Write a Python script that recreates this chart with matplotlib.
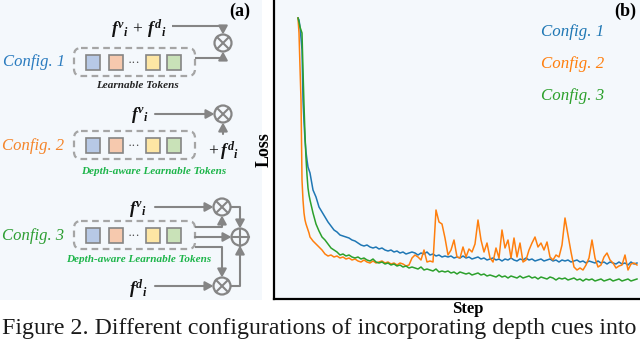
import numpy as np
import matplotlib
matplotlib.use('Agg')
import matplotlib.pyplot as plt
from matplotlib.patches import Rectangle, FancyBboxPatch, Circle

plt.rcParams['font.family'] = ['Liberation Serif', 'DejaVu Serif']
plt.rcParams['mathtext.fontset'] = 'custom'
plt.rcParams['mathtext.rm'] = 'Liberation Serif'
plt.rcParams['mathtext.it'] = 'Liberation Serif:italic:bold'
plt.rcParams['mathtext.bf'] = 'Liberation Serif:bold'

# ---------------- data (arbitrary loss units) ----------------
series_names = ['Config. 1', 'Config. 2', 'Config. 3']
steps = np.concatenate([np.arange(24, 37), np.arange(39, 364, 3)])

loss_c1 = [281, 279, 272, 261, 249, 199, 177, 159, 147, 139, 132, 129, 126,
           109, 102, 92, 87, 82, 77, 73, 69, 67, 64,
           63, 62, 61, 59, 58, 56, 54, 53, 54, 52,
           51, 52, 50, 51, 49, 48, 49, 47, 48, 46,
           47, 45, 46, 47, 46, 44, 46, 45, 47, 44,
           45, 43, 44, 42, 43, 42, 43, 41, 42, 41,
           43, 41, 42, 40, 41, 42, 40, 41, 39, 40,
           41, 39, 40, 38, 40, 39, 41, 39, 38, 40,
           39, 41, 39, 40, 38, 39, 40, 38, 39, 40,
           38, 39, 37, 39, 38, 39, 37, 38, 39, 37,
           38, 36, 38, 37, 36, 38, 36, 37, 35, 37,
           36, 35, 37, 35, 36, 34, 37, 35, 36]

loss_c2 = [281, 266, 232, 199, 119, 99, 86, 79, 75, 72, 69, 66, 62,
           58, 55, 52, 49, 45, 43, 44, 42, 43, 41,
           42, 40, 41, 39, 40, 38, 37, 39, 37, 36,
           38, 36, 37, 38, 36, 37, 35, 36, 34, 36,
           35, 33, 34, 41, 44, 42, 39, 49, 37, 38,
           37, 89, 77, 75, 61, 44, 49, 59, 42, 41,
           52, 42, 50, 47, 55, 79, 59, 47, 56, 41,
           37, 51, 41, 69, 51, 59, 41, 61, 42, 56,
           37, 39, 49, 56, 62, 52, 56, 49, 57, 42,
           39, 44, 42, 54, 81, 64, 47, 32, 29, 31,
           29, 34, 41, 59, 41, 32, 34, 42, 46, 39,
           36, 31, 33, 34, 44, 29, 35, 36, 34]

loss_c3 = [281, 277, 272, 269, 266, 229, 194, 164, 141, 124, 111, 104, 99,
           86, 75, 68, 62, 59, 55, 51, 49, 47, 44,
           45, 43, 44, 42, 41, 42, 40, 41, 39, 38,
           40, 37, 36, 37, 35, 36, 34, 35, 33, 34,
           32, 33, 31, 32, 31, 30, 32, 29, 30, 29,
           28, 30, 27, 28, 27, 28, 26, 27, 25, 27,
           26, 25, 26, 24, 25, 26, 24, 25, 23, 24,
           23, 22, 24, 22, 23, 21, 23, 22, 21, 23,
           21, 22, 23, 21, 22, 20, 22, 21, 20, 22,
           21, 19, 21, 20, 21, 19, 20, 21, 19, 20,
           18, 20, 19, 20, 18, 19, 20, 18, 19, 20,
           18, 19, 20, 18, 19, 20, 18, 19, 20]

line_colors = ['#1f77b4', '#ff7f0e', '#2ca02c']
caption = 'Figure 2. Different configurations of incorporating depth cues into'

# ---------------- figure ----------------
W, H = 640, 340
BG = '#f4f8fc'
GRAY = '#858585'
fig = plt.figure(figsize=(6.4, 3.4), dpi=100)

# overlay for diagram (a) and caption, pixel coordinates (drawn below the chart)
ax0 = fig.add_axes([0, 0, 1, 1])
ax0.set_xlim(0, W)
ax0.set_ylim(H, 0)
ax0.axis('off')
ax0.add_patch(Rectangle((0, 0), 262, 300, fc=BG, ec='none', zorder=0))

# right panel: loss chart
ax = fig.add_axes([274 / W, 1 - 299 / H, 1 - 274 / W, 299 / H])
ax.set_facecolor(BG)
for name, vals, col in zip(series_names, [loss_c1, loss_c2, loss_c3], line_colors):
    ax.plot(steps, vals, color=col, lw=1.1, label=name)
ax.set_xlim(0, 366)
ax.set_ylim(0, 299)
ax.set_xticks([])
ax.set_yticks([])
for s in ['top', 'right']:
    ax.spines[s].set_visible(False)
for s in ['left', 'bottom']:
    ax.spines[s].set_linewidth(1.6)
    ax.spines[s].set_color('black')
ax.set_xlabel('Step', fontsize=12, fontweight='bold', labelpad=1)
ax.xaxis.set_label_coords((468 - 274) / 366, -0.008)
ax.xaxis.label.set_va('top')
ax.set_ylabel('Loss', fontsize=13, fontweight='bold', labelpad=1)
leg = ax.legend(loc='upper left', bbox_to_anchor=((541 - 274) / 366, 1 - 24 / 299),
                frameon=False, handlelength=0, handletextpad=0, borderpad=0,
                borderaxespad=0, labelspacing=0.95, labelcolor='linecolor',
                prop={'family': 'Liberation Serif', 'style': 'italic', 'size': 12.2})
for h in leg.legend_handles:
    h.set_visible(False)
fig.text(625 / W, 1 - 11 / H, '(b)', fontsize=13, fontweight='bold',
         ha='center', va='center')


def seg(xs, ys):
    ax0.plot(xs, ys, color=GRAY, lw=1.5, solid_capstyle='butt', zorder=2)


def arrow(x0, y0, x1, y1):
    ax0.annotate('', xy=(x1, y1), xytext=(x0, y0),
                 arrowprops=dict(arrowstyle='-|>,head_length=0.55,head_width=0.3',
                                 color=GRAY, lw=1.5, shrinkA=0, shrinkB=0,
                                 mutation_scale=9), zorder=2)


def otimes(cx, cy, r=8.5):
    ax0.add_patch(Circle((cx, cy), r, fc=BG, ec=GRAY, lw=1.6, zorder=3))
    d = r * 0.7
    ax0.plot([cx - d, cx + d], [cy - d, cy + d], color=GRAY, lw=1.5, zorder=4)
    ax0.plot([cx - d, cx + d], [cy + d, cy - d], color=GRAY, lw=1.5, zorder=4)


def oplus(cx, cy, r=8.5):
    ax0.add_patch(Circle((cx, cy), r, fc=BG, ec=GRAY, lw=1.6, zorder=3))
    ax0.plot([cx - r, cx + r], [cy, cy], color=GRAY, lw=1.5, zorder=4)
    ax0.plot([cx, cx], [cy - r, cy + r], color=GRAY, lw=1.5, zorder=4)


token_cols = ['#b7c9e6', '#f6c9ae', None, '#fde6a4', '#c9e2b8']
token_x = [86, 109, None, 146, 167]


def token_box(yc):
    ax0.add_patch(FancyBboxPatch((74, yc - 14), 121, 28,
                                 boxstyle='round,pad=0,rounding_size=7',
                                 fc='none', ec='#a5a5a5', lw=1.6,
                                 ls=(0, (3, 2)), zorder=2))
    for x, c in zip(token_x, token_cols):
        if c is None:
            ax0.text(134, yc + 1, '···', ha='center', va='center', fontsize=9,
                     color='#444444', zorder=3)
        else:
            ax0.add_patch(Rectangle((x, yc - 7.5), 14, 15, fc=c, ec='#858585',
                                    lw=1.2, zorder=3))


cfg_kw = dict(fontsize=12, style='italic', ha='center', va='center')
f_kw = dict(fontsize=12.5, ha='center', va='center', color='#111111')
GREEN_TXT = '#1db54a'

# (a) tag
ax0.text(240, 11, '(a)', fontsize=13, fontweight='bold', ha='center', va='center')

# Config 1
ax0.text(34, 62, 'Config. 1', color='#2a7bbf', **cfg_kw)
token_box(62)
ax0.text(139, 29, r'$f^{v}{}_{i}\,+\,f^{d}{}_{i}$', **f_kw)
seg([172, 223], [26, 26])
arrow(223, 26, 223, 34.5)
otimes(223, 43)
seg([195, 223], [58, 58])
arrow(223, 58, 223, 51.5)
ax0.text(137, 86, 'Learnable Tokens', fontsize=8, style='italic',
         fontweight='bold', ha='center', va='center', color='#222222')

# Config 2
ax0.text(33, 146, 'Config. 2', color='#f5852a', **cfg_kw)
token_box(145)
ax0.text(140, 115, r'$f^{v}{}_{i}$', **f_kw)
arrow(155, 114, 214.5, 114)
otimes(223, 114)
arrow(223, 134, 223, 122.5)
ax0.text(223, 151, r'$+\,f^{d}{}_{i}$', **f_kw)
ax0.text(154, 172, 'Depth-aware Learnable Tokens', fontsize=8, style='italic',
         fontweight='bold', ha='center', va='center', color=GREEN_TXT)

# Config 3
ax0.text(33, 236, 'Config. 3', color='#2e9e33', **cfg_kw)
token_box(235)
ax0.text(138, 209, r'$f^{v}{}_{i}$', **f_kw)
arrow(155, 207, 213.5, 207)
otimes(222, 207)
ax0.text(138, 289, r'$f^{d}{}_{i}$', **f_kw)
arrow(155, 286, 213.5, 286)
otimes(222, 286)
seg([195, 222], [227, 227])
arrow(222, 227, 222, 215.5)
arrow(195, 237, 231.5, 237)
seg([195, 222], [247, 247])
arrow(222, 247, 222, 277.5)
oplus(240, 237)
seg([230.5, 240], [207, 207])
arrow(240, 207, 240, 228.5)
seg([230.5, 240], [286, 286])
arrow(240, 286, 240, 245.5)
ax0.text(139, 260, 'Depth-aware Learnable Tokens', fontsize=8, style='italic',
         fontweight='bold', ha='center', va='center', color=GREEN_TXT)

# caption
ax0.text(2, 334, caption, fontsize=17.2, ha='left', va='baseline', color='#1a1a1a')

fig.savefig('out.png', dpi=100)
